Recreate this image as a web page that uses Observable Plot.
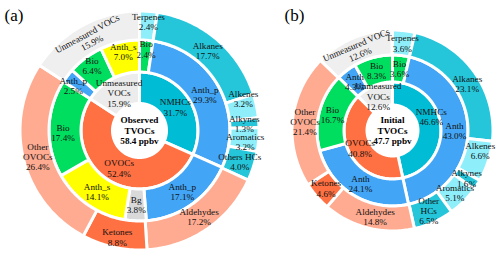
<!DOCTYPE html>
<html>
<head>
<meta charset="utf-8">
<script src="https://cdn.jsdelivr.net/npm/d3@7"></script>
<script src="https://cdn.jsdelivr.net/npm/@observablehq/plot@0.6"></script>
<style>
  body { margin: 0; background: #fff; }
  svg text { font-family: "Liberation Serif", "Times New Roman", serif; }
</style>
</head>
<body>
<div id="chart"></div>
<script>
// Composition of TVOCs (% of total), three nested rings per panel:
// inner = compound class, middle = source, outer = compound group.

// (a) Observed TVOCs
const obsTotal = 58.4;
const obsClassLabels = ["NMHCs", "OVOCs", "Unmeasured\nVOCs"];
const obsClassValues = [31.7, 52.4, 15.9];
const obsSourceLabels = ["Bio", "Anth_p", "Anth_p", "Bg", "Anth_s", "Bio", "Anth_p", "Bio", "Anth_s"];
const obsSourceValues = [2.4, 29.3, 17.1, 3.8, 14.1, 17.4, 2.5, 6.4, 7.0];
const obsGroupLabels = ["Terpenes", "Alkanes", "Alkenes", "Alkynes", "Aromatics", "Others HCs", "Aldehydes", "Ketones", "Other\nOVOCs", "Unmeasured VOCs"];
const obsGroupValues = [2.4, 17.7, 3.2, 1.3, 3.2, 4.0, 17.2, 8.8, 26.4, 15.9];

// (b) Initial TVOCs
const iniTotal = 47.7;
const iniClassLabels = ["NMHCs", "OVOCs", "Unmeasured\nVOCs"];
const iniClassValues = [46.6, 40.8, 12.6];
const iniSourceLabels = ["Bio", "Anth", "Anth", "Bio", "Anth", "Bio"];
const iniSourceValues = [3.6, 43.0, 24.1, 16.7, 4.3, 8.3];
const iniGroupLabels = ["Terpenes", "Alkanes", "Alkenes", "Alkynes", "Aromatics", "Other\nHCs", "Aldehydes", "Ketones", "Other\nOVOCs", "Unmeasured VOCs"];
const iniGroupValues = [3.6, 23.1, 6.6, 1.6, 5.1, 6.5, 14.8, 4.6, 21.4, 12.6];

// colours by category name
const palette = {
  "NMHCs": "#00bcd4", "OVOCs": "#ff7043", "Unmeasured\nVOCs": "#ececec",
  "Bio": "#00de60", "Anth_p": "#42a5f5", "Anth": "#42a5f5", "Anth_s": "#ffff00", "Bg": "#d9d9d9",
  "Terpenes": "#8eeefa", "Alkanes": "#26c6da", "Alkenes": "#8eeefa", "Alkynes": "#26c6da",
  "Aromatics": "#8eeefa", "Others HCs": "#26c6da", "Other\nHCs": "#26c6da",
  "Aldehydes": "#ffab91", "Ketones": "#ff7043", "Other\nOVOCs": "#ffab91", "Unmeasured VOCs": "#efefef"
};

const serif = "'Liberation Serif', 'Times New Roman', serif";

// panel geometry: centre, ring radii (px) and panel-letter position
const panels = [
  {key: "a", title: "(a)", tx: 4, head: "Observed", total: obsTotal, cx: 139, cy: 130,
   rings: [[27, 58.5], [58.5, 90.5], [90.5, 119.5]],
   labels: [obsClassLabels, obsSourceLabels, obsGroupLabels],
   values: [obsClassValues, obsSourceValues, obsGroupValues]},
  {key: "b", title: "(b)", tx: 284, head: "Initial", total: iniTotal, cx: 392, cy: 130,
   rings: [[25.5, 48.5], [48.5, 75.5], [75.5, 100.5]],
   labels: [iniClassLabels, iniSourceLabels, iniGroupLabels],
   values: [iniClassValues, iniSourceValues, iniGroupValues]}
];

// small label shifts (panel/ring/index) where neighbouring labels would collide
const nudge = {
  "a/1/0": [1, -7], "a/1/5": [-2, 4], "a/1/6": [-7, 0], "a/1/7": [-3, -5], "a/1/8": [0, -6],
  "a/2/0": [1, -4], "a/2/2": [1, -10], "a/2/4": [1, 3], "a/2/7": [0, 4],
  "b/0/0": [2, -10], "b/2/1": [3, 4], "b/2/2": [4, -7], "b/2/6": [4, 1]
};

const wedges = [];
const labels = [];
for (const p of panels) {
  p.rings.forEach(([r0, r1], ring) => {
    const vals = p.values[ring];
    const names = p.labels[ring];
    let acc = 0;
    vals.forEach((v, i) => {
      const a0 = acc / 100 * 2 * Math.PI;
      acc += v;
      const a1 = Math.min(acc, 100) / 100 * 2 * Math.PI;
      const id = `${p.key}-${ring}-${i}`;
      const n = Math.max(2, Math.ceil((a1 - a0) / (Math.PI / 180)));
      const pts = [];
      for (let k = 0; k <= n; k++) pts.push([r1, a0 + (a1 - a0) * k / n]);
      for (let k = n; k >= 0; k--) pts.push([r0, a0 + (a1 - a0) * k / n]);
      for (const [r, a] of pts) {
        wedges.push({id, fill: palette[names[i]], x: p.cx + r * Math.sin(a), y: p.cy - r * Math.cos(a)});
      }
      // label at the wedge centroid
      const am = (a0 + a1) / 2;
      const rm = (r0 + r1) / 2;
      const nd = nudge[`${p.key}/${ring}/${i}`] || [0, 0];
      const rot = names[i] === "Unmeasured VOCs" ? am * 180 / Math.PI - 360 : 0;
      labels.push({
        x: p.cx + rm * Math.sin(am) + nd[0],
        y: p.cy - rm * Math.cos(am) + nd[1],
        text: `${names[i]}\n${v.toFixed(1)}%`,
        rotate: rot
      });
    });
  });
}

const centres = panels.map(p => ({x: p.cx, y: p.cy, text: `${p.head}\nTVOCs\n${p.total.toFixed(1)} ppbv`}));
const titles = panels.map(p => ({x: p.tx, y: 15, text: p.title}));

const chart = Plot.plot({
  width: 500,
  height: 260,
  margin: 0,
  x: {domain: [0, 500], range: [0, 500], axis: null},
  y: {domain: [0, 260], range: [0, 260], axis: null},
  color: {type: "identity"},
  style: {background: "#fff"},
  marks: [
    Plot.line(wedges, {x: "x", y: "y", z: "id", fill: "fill", stroke: "white", strokeWidth: 3, curve: "linear-closed"}),
    Plot.text(labels, {x: "x", y: "y", text: "text", rotate: "rotate", fontFamily: serif, fontSize: 9.2, lineHeight: 1.13, fill: "#111"}),
    Plot.text(centres, {x: "x", y: "y", text: "text", fontFamily: serif, fontSize: 9.2, fontWeight: "bold", lineHeight: 1.13, fill: "#000"}),
    Plot.text(titles, {x: "x", y: "y", text: "text", fontFamily: serif, fontSize: 17, textAnchor: "start", fill: "#000"})
  ]
});
document.getElementById("chart").append(chart);
</script>
</body>
</html>
